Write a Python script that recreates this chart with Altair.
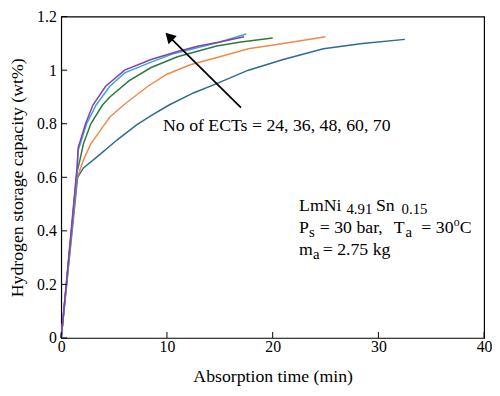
import altair as alt
import pandas as pd

# ---- data -------------------------------------------------------------
series = ["24", "36", "48", "60", "70"]
colors = ["#2d6c8c", "#ef8a4c", "#2b7a3c", "#3aa6dc", "#8a3dad"]

t24 = [0, 1.55, 2.1, 3.5, 5.3, 7.1, 8.5, 10.2, 12.5, 14.7, 17.7, 21.0, 24.8, 28.5, 32.5]
c24 = [0, 0.60, 0.635, 0.68, 0.74, 0.795, 0.83, 0.87, 0.915, 0.95, 1.00, 1.04, 1.08, 1.10, 1.115]

t36 = [0, 1.5, 1.7, 2.1, 2.8, 4.07, 4.6, 5.9, 8.2, 10.0, 12.2, 15.0, 17.7, 21.0, 25.0]
c36 = [0, 0.60, 0.62, 0.665, 0.725, 0.796, 0.825, 0.87, 0.94, 0.985, 1.02, 1.05, 1.08, 1.10, 1.125]

t48 = [0, 1.5, 1.77, 2.1, 2.8, 3.9, 4.6, 6.4, 8.5, 11.0, 14.7, 17.0, 20.0]
c48 = [0, 0.62, 0.665, 0.725, 0.80, 0.87, 0.90, 0.96, 1.01, 1.05, 1.09, 1.105, 1.12]

t60 = [0, 1.5, 1.6, 2.4, 3.3, 4.6, 6.0, 8.5, 10.5, 12.5, 15.0, 17.5]
c60 = [0, 0.62, 0.70, 0.80, 0.87, 0.94, 0.99, 1.03, 1.06, 1.08, 1.105, 1.135]

t70 = [0, 1.5, 1.6, 2.3, 3.0, 4.2, 6.0, 8.5, 11.0, 13.0, 15.0, 17.3]
c70 = [0, 0.64, 0.71, 0.80, 0.87, 0.94, 1.00, 1.04, 1.07, 1.09, 1.105, 1.125]

x_ticks = [0, 10, 20, 30, 40]
y_ticks = [0, 0.2, 0.4, 0.6, 0.8, 1.0, 1.2]

arrow_x = [17.0, 10.35]
arrow_y = [0.86, 1.12]
arrow_head_x = [10.2]
arrow_head_y = [1.126]

ects_label = "No of ECTs = 24, 36, 48, 60, 70"
ects_pos = [9.63, 0.79]

# annotation pieces: text, line, dx, dy, size
note_x = 22.5
note_lines_y = [0.474, 0.391, 0.309]
note_pieces = [
    ("LmNi", 0, 0, 0, 18), ("4.91", 0, 48, 3, 15), ("Sn", 0, 78, 0, 18), ("0.15", 0, 104, 3, 15),
    ("P", 1, 0, 0, 18), ("s", 1, 10, 4, 15), ("= 30 bar,", 1, 21, 0, 18), ("T", 1, 96, 0, 18),
    ("a", 1, 108, 4, 15), ("= 30", 1, 124, 0, 18), ("o", 1, 157, -7, 12), ("C", 1, 163, 0, 18),
    ("m", 2, 0, 0, 18), ("a", 2, 14, 4, 15), ("= 2.75 kg", 2, 24, 0, 18),
]

# ---- build -----------------------------------------------------------
rows = []
for name, ts, cs in zip(series, [t24, t36, t48, t60, t70], [c24, c36, c48, c60, c70]):
    for i, (t, c) in enumerate(zip(ts, cs)):
        rows.append({"ects": name, "time": t, "cap": c, "i": i})
df = pd.DataFrame(rows)

FONT = "Liberation Serif"
W, H = 429, 326
xs = alt.Scale(domain=[0, 40], nice=False)
ys = alt.Scale(domain=[0, 1.2], nice=False)

x_axis = alt.Axis(
    values=x_ticks, title="Absorption time (min)", grid=False, domain=False,
    tickSize=0, labelPadding=1, titlePadding=13, labelFontSize=16, titleFontSize=18,
    labelFont=FONT, titleFont=FONT, labelColor="black", titleColor="black",
    titleFontWeight="normal", labelFlush=False)
y_axis = alt.Axis(
    values=y_ticks, format="~g", title="Hydrogen storage capacity (wt%)", grid=False,
    domain=False, tickSize=0, labelPadding=5, titlePadding=10, labelFontSize=16,
    titleFontSize=18, labelFont=FONT, titleFont=FONT, labelColor="black",
    titleColor="black", titleFontWeight="normal", labelFlush=False)


def X(f):
    return alt.X(f, scale=xs, axis=x_axis)


def Y(f):
    return alt.Y(f, scale=ys, axis=y_axis)


lines = alt.Chart(df).mark_line(strokeWidth=1.5).encode(
    x=X("time:Q"), y=Y("cap:Q"),
    color=alt.Color("ects:N", scale=alt.Scale(domain=series, range=colors), legend=None),
    order="i:Q",
)

xt = alt.Chart(pd.DataFrame({"t": x_ticks})).mark_rule(color="black", strokeWidth=1).encode(
    x=X("t:Q"), y=alt.value(H), y2=alt.value(H - 6))
yt = alt.Chart(pd.DataFrame({"t": y_ticks})).mark_rule(color="black", strokeWidth=1).encode(
    y=Y("t:Q"), x=alt.value(0), x2=alt.value(6))

arrow = alt.Chart(pd.DataFrame({"x": [arrow_x[0]], "y": [arrow_y[0]], "x2": [arrow_x[1]], "y2": [arrow_y[1]]})).mark_rule(
    color="black", strokeWidth=1.8).encode(
    x=X("x:Q"), y=Y("y:Q"), x2="x2:Q", y2="y2:Q")
head = alt.Chart(pd.DataFrame({"x": arrow_head_x, "y": arrow_head_y})).mark_point(
    shape="triangle-up", filled=True, color="black", opacity=1, size=140, angle=315).encode(
    x=X("x:Q"), y=Y("y:Q"))

label = alt.Chart(pd.DataFrame({"x": [ects_pos[0]], "y": [ects_pos[1]], "t": [ects_label]})).mark_text(
    align="left", baseline="middle", font=FONT, fontSize=18, color="black").encode(
    x=X("x:Q"), y=Y("y:Q"), text="t:N")

notes = []
for txt, ln, dx, dy, sz in note_pieces:
    notes.append(alt.Chart(pd.DataFrame({"x": [note_x], "y": [note_lines_y[ln]], "t": [txt]})).mark_text(
        align="left", baseline="alphabetic", font=FONT, fontSize=sz, color="black", dx=dx, dy=dy).encode(
        x=X("x:Q"), y=Y("y:Q"), text="t:N"))

chart = alt.layer(lines, xt, yt, arrow, head, label, *notes).properties(
    width=W, height=H,
    autosize=alt.AutoSizeParams(type="none"),
    padding={"left": 54, "top": 6, "right": 8, "bottom": 48},
).configure_view(stroke="black", strokeWidth=1.2)

chart.save("out.html", embed_options={"renderer": "svg", "actions": False})
